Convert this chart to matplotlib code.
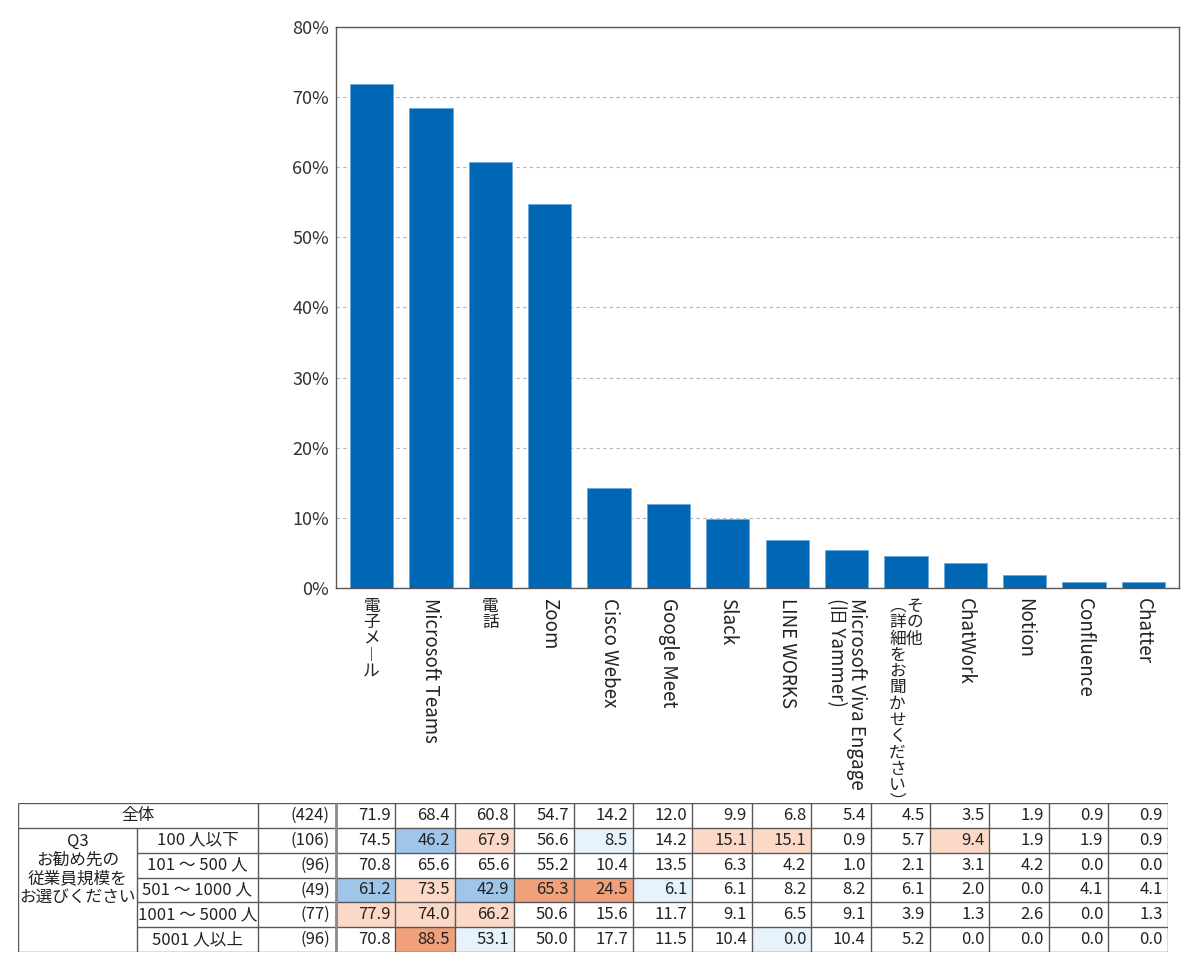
import numpy as np
import matplotlib
matplotlib.use('Agg')
import matplotlib.pyplot as plt
from matplotlib.patches import Rectangle

plt.rcParams['font.family'] = ['Noto Sans CJK JP', 'DejaVu Sans']

# chart data
categories = ['電子メール', 'Microsoft Teams', '電話', 'Zoom', 'Cisco Webex',
              'Google Meet', 'Slack', 'LINE WORKS',
              'Microsoft Viva Engage\n(旧 Yammer)',
              'その他\n(詳細をお聞かせください)',
              'ChatWork', 'Notion', 'Confluence', 'Chatter']
overall = [71.9, 68.4, 60.8, 54.7, 14.2, 12.0, 9.9, 6.8, 5.4, 4.5, 3.5, 1.9, 0.9, 0.9]

# table data
row_labels = ['全体', '100 人以下', '101 〜 500 人', '501 〜 1000 人',
              '1001 〜 5000 人', '5001 人以上']
group_label = 'Q3\nお勧め先の\n従業員規模を\nお選びください'
row_n = ['(424)', '(106)', '(96)', '(49)', '(77)', '(96)']
table_vals = [
    [71.9, 68.4, 60.8, 54.7, 14.2, 12.0, 9.9, 6.8, 5.4, 4.5, 3.5, 1.9, 0.9, 0.9],
    [74.5, 46.2, 67.9, 56.6, 8.5, 14.2, 15.1, 15.1, 0.9, 5.7, 9.4, 1.9, 1.9, 0.9],
    [70.8, 65.6, 65.6, 55.2, 10.4, 13.5, 6.3, 4.2, 1.0, 2.1, 3.1, 4.2, 0.0, 0.0],
    [61.2, 73.5, 42.9, 65.3, 24.5, 6.1, 6.1, 8.2, 8.2, 6.1, 2.0, 0.0, 4.1, 4.1],
    [77.9, 74.0, 66.2, 50.6, 15.6, 11.7, 9.1, 6.5, 9.1, 3.9, 1.3, 2.6, 0.0, 1.3],
    [70.8, 88.5, 53.1, 50.0, 17.7, 11.5, 10.4, 0.0, 10.4, 5.2, 0.0, 0.0, 0.0, 0.0],
]
# 2/1 = higher than overall, -1/-2 = lower
table_marks = [
    [0, 0, 0, 0, 0, 0, 0, 0, 0, 0, 0, 0, 0, 0],
    [0, -2, 1, 0, -1, 0, 1, 1, 0, 0, 1, 0, 0, 0],
    [0, 0, 0, 0, 0, 0, 0, 0, 0, 0, 0, 0, 0, 0],
    [-2, 1, -2, 2, 2, -1, 0, 0, 0, 0, 0, 0, 0, 0],
    [1, 1, 1, 0, 0, 0, 0, 0, 0, 0, 0, 0, 0, 0],
    [0, 2, -1, 0, 0, 0, 0, -1, 0, 0, 0, 0, 0, 0],
]
mark_colors = {2: '#f0a07a', 1: '#fbd9c6', 0: 'white', -1: '#e6f3fc', -2: '#9fc6e8'}

BAR = '#0067b5'
LINE = '#595757'
FS = 12        # table / vertical CJK
FS_LAT = 13.5  # rotated latin labels
FS_TICK = 13

W, H = 1200, 971
fig = plt.figure(figsize=(W / 100, H / 100), dpi=100)

# ---- bar chart ----
ax = fig.add_axes([336 / W, 1 - 588 / H, 843 / W, 561 / H])
x = np.arange(len(categories))
ax.bar(x, overall, width=0.73, color=BAR, edgecolor='#6fa8dc', linewidth=0.6, zorder=3)
ax.set_xlim(-0.6, 13.6)
ax.set_ylim(0, 80)
ax.set_yticks(np.arange(0, 81, 10))
ax.set_yticklabels([f'{v}%' for v in range(0, 81, 10)], fontsize=FS_TICK, color='#333333')
ax.tick_params(axis='y', length=0, pad=5)
ax.set_xticks([])
ax.yaxis.grid(True, linestyle=(0, (3, 3)), color='#b5b5b5', linewidth=0.8, zorder=0)
for s in ax.spines.values():
    s.set_color(LINE)
    s.set_linewidth(1.0)


def is_vertical(line):
    # japanese-only lines are set top-to-bottom, upright
    return not any(c.isascii() and c.isalnum() for c in line)


vert_map = {'ー': '︱', '(': '︵', ')': '︶'}
for i, label in enumerate(categories):
    lines = label.split('\n')
    n = len(lines)
    for j, line in enumerate(lines):
        step = 17 if is_vertical(line) else 20
        dx = -((j - (n - 1) / 2) * step) * 0.72  # points, first line on the right
        if is_vertical(line):
            for k, ch in enumerate(line):
                ax.annotate(vert_map.get(ch, ch), xy=(i, 0), xycoords=('data', 'axes fraction'),
                            xytext=(dx, -7 - k * FS * 0.98), textcoords='offset points',
                            ha='center', va='top', fontsize=FS, color='#222222')
        else:
            ax.annotate(line, xy=(i, 0), xycoords=('data', 'axes fraction'),
                        xytext=(dx, -7), textcoords='offset points',
                        ha='center', va='top', rotation=270, fontsize=FS_LAT, color='#222222')

# ---- table ----
col_w = [119, 121, 78] + [59.4] * len(categories)
col_x = np.concatenate([[0], np.cumsum(col_w)])
n_rows = len(row_labels)
tax = fig.add_axes([18 / W, 1 - 952 / H, col_x[-1] / W, 149 / H])
tax.set_xlim(0, col_x[-1])
tax.set_ylim(n_rows, 0)
tax.axis('off')

for r in range(n_rows):
    for c in range(len(categories)):
        col = 3 + c
        tax.add_patch(Rectangle((col_x[col], r), col_w[col], 1,
                                facecolor=mark_colors[table_marks[r][c]], edgecolor='none'))
        tax.text(col_x[col + 1] - 5, r + 0.5, f'{table_vals[r][c]:.1f}',
                 ha='right', va='center', fontsize=FS, color='#222222')
    tax.text(col_x[3] - 6, r + 0.5, row_n[r], ha='right', va='center', fontsize=FS, color='#222222')
    if r == 0:
        tax.text(col_x[2] / 2, r + 0.5, row_labels[r], ha='center', va='center', fontsize=FS, color='#222222')
    else:
        tax.text((col_x[1] + col_x[2]) / 2, r + 0.5, row_labels[r], ha='center', va='center',
                 fontsize=FS, color='#222222')
tax.text(col_x[1] / 2, 2.68, group_label, ha='center', va='center',
         fontsize=FS, color='#222222', linespacing=1.12)

# grid lines
for r in range(n_rows + 1):
    x0 = 0 if r <= 1 or r == n_rows else col_x[1]
    tax.plot([x0, col_x[-1]], [r, r], color=LINE, lw=1.0, solid_capstyle='butt')
for c, xc in enumerate(col_x):
    y0 = 1 if c == 1 else 0
    lw = 2.0 if c == 3 else 1.0
    color = '#8a8a8a' if c == 3 else LINE
    tax.plot([xc, xc], [y0, n_rows], color=color, lw=lw, solid_capstyle='butt')

fig.savefig('out.png', dpi=100)
